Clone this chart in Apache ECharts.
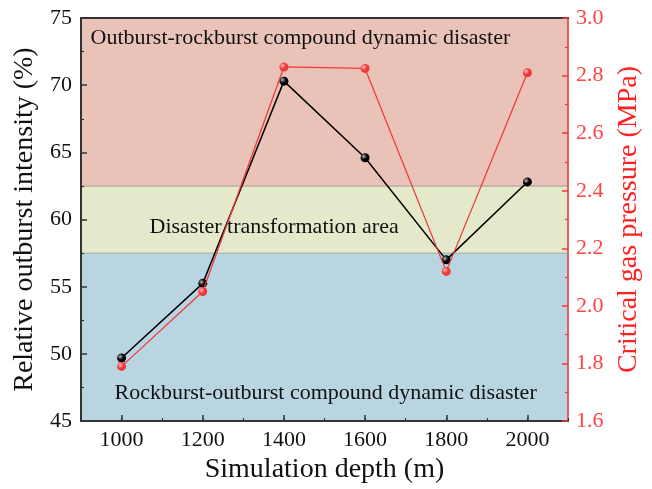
<!DOCTYPE html>
<html>
<head>
<meta charset="utf-8">
<script src="https://cdn.jsdelivr.net/npm/echarts@6/dist/echarts.min.js"></script>
<style>
  html, body { margin: 0; padding: 0; background: #fff; }
  #chart { width: 652px; height: 489px; }
</style>
</head>
<body>
<div id="chart"></div>
<script>
// Simulation depths (m)
const depths = [1000, 1200, 1400, 1600, 1800, 2000];
// Relative outburst intensity (%), left axis
const intensity = [49.7, 55.25, 70.3, 64.6, 57.0, 62.8];
// Critical gas pressure (MPa), right axis
const pressure = [1.79, 2.05, 2.83, 2.825, 2.12, 2.81];
// Zone bounds on the intensity axis
const zoneBounds = [45, 57.5, 62.5, 75];
const zoneNames = [
  'Rockburst-outburst compound dynamic disaster',
  'Disaster transformation area',
  'Outburst-rockburst compound dynamic disaster'
];

const FONT = '"Liberation Serif", "Times New Roman", serif';
const DARK = '#333';
const RED = '#f23a3a';

function ball(base, hi) {
  return {
    type: 'radial', x: 0.35, y: 0.35, r: 0.7,
    colorStops: [
      { offset: 0, color: hi },
      { offset: 0.5, color: base },
      { offset: 1, color: base }
    ]
  };
}

const chart = echarts.init(document.getElementById('chart'));
chart.setOption({
  animation: false,
  grid: { left: 81, right: 84, top: 18, bottom: 65.5 },
  xAxis: [{
    // main depth axis: labels and long ticks at the data depths
    type: 'value', min: 900, max: 2100, interval: 100,
    name: 'Simulation depth (m)', nameLocation: 'middle', nameGap: 31,
    nameTextStyle: { fontFamily: FONT, fontSize: 28, color: '#111' },
    axisLine: { lineStyle: { color: DARK, width: 2 } },
    axisTick: { inside: true, length: 6, customValues: depths, lineStyle: { color: DARK, width: 1.5 } },
    axisLabel: { fontFamily: FONT, fontSize: 22, color: '#111', margin: 8, customValues: depths,
                 formatter: v => String(v) },
    splitLine: { show: false }
  }, {
    // short ticks every 100 m
    type: 'value', min: 900, max: 2100, interval: 100, position: 'bottom',
    axisLine: { show: false },
    axisTick: { inside: true, length: 3, lineStyle: { color: DARK, width: 1.2 } },
    axisLabel: { show: false }, splitLine: { show: false }
  }, {
    // top frame line
    type: 'value', min: 900, max: 2100, position: 'top',
    axisLine: { onZero: false, lineStyle: { color: DARK, width: 2 } },
    axisTick: { show: false }, axisLabel: { show: false }, splitLine: { show: false }
  }],
  yAxis: [{
    type: 'value', min: 45, max: 75, interval: 5,
    name: 'Relative outburst intensity (%)', nameLocation: 'middle', nameGap: 42,
    nameTextStyle: { fontFamily: FONT, fontSize: 28, color: '#111' },
    axisLine: { show: true, lineStyle: { color: DARK, width: 2 } },
    axisTick: { show: true, inside: true, length: 6, lineStyle: { color: DARK, width: 1.5 } },
    minorTick: { show: true, splitNumber: 2, length: 3, lineStyle: { color: DARK, width: 1.2 } },
    axisLabel: { fontFamily: FONT, fontSize: 22, color: '#111', margin: 9 },
    splitLine: { show: false }
  }, {
    type: 'value', min: 1.6, max: 3.0, interval: 0.2, position: 'right',
    name: 'Critical gas pressure (MPa)', nameLocation: 'middle', nameGap: 42,
    nameTextStyle: { fontFamily: FONT, fontSize: 28, color: '#ff2020' },
    axisLine: { show: true, lineStyle: { color: RED, width: 1.5 } },
    axisTick: { show: true, inside: true, length: 6, lineStyle: { color: RED, width: 1.5 } },
    minorTick: { show: true, splitNumber: 2, length: 3, lineStyle: { color: RED, width: 1.2 } },
    axisLabel: { fontFamily: FONT, fontSize: 22, color: '#f44', margin: 8, formatter: v => v.toFixed(1) },
    splitLine: { show: false }
  }],
  series: [{
    name: 'Relative outburst intensity',
    type: 'line',
    xAxisIndex: 0, yAxisIndex: 0,
    data: depths.map((d, i) => [d, intensity[i]]),
    symbol: 'circle', symbolSize: 9,
    lineStyle: { color: '#000', width: 1.5 },
    itemStyle: { color: ball('#000', '#bbb') },
    z: 3,
    markArea: {
      silent: true,
      z: 0,
      data: [
        [{ yAxis: zoneBounds[0], itemStyle: { color: '#b9d5e2', borderColor: '#9ab8c0', borderWidth: 1 },
           label: { show: true, position: [34, 130], formatter: zoneNames[0] } },
         { yAxis: zoneBounds[1] }],
        [{ yAxis: zoneBounds[1], itemStyle: { color: '#e3e9ca', borderColor: '#a9b0a0', borderWidth: 1 },
           label: { show: true, position: [69, 31], formatter: zoneNames[1] } },
         { yAxis: zoneBounds[2] }],
        [{ yAxis: zoneBounds[2], itemStyle: { color: '#e9c3b8', borderColor: '#b8a29a', borderWidth: 1 },
           label: { show: true, position: [10, 10], formatter: zoneNames[2] } },
         { yAxis: zoneBounds[3] }]
      ],
      label: { fontFamily: FONT, fontSize: 22, color: '#111' }
    }
  }, {
    name: 'Critical gas pressure',
    type: 'line',
    xAxisIndex: 0, yAxisIndex: 1,
    data: depths.map((d, i) => [d, pressure[i]]),
    symbol: 'circle', symbolSize: 9,
    lineStyle: { color: RED, width: 1.3 },
    itemStyle: { color: ball('#f03a3a', '#ffc0c0') },
    z: 4
  }]
});
</script>
</body>
</html>
